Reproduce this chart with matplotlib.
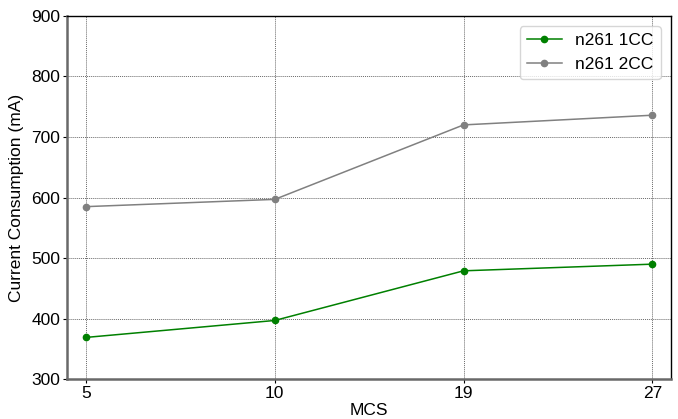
import numpy as np
import matplotlib
matplotlib.use('Agg')
import matplotlib.pyplot as plt

plt.rcParams['font.family'] = ['Liberation Sans', 'DejaVu Sans']

# Datos
mcs = ['5', '10', '19', '27']
cc1 = [369, 397, 479, 490]
cc2 = [585, 597, 720, 736]

fig, ax = plt.subplots(figsize=(6.78, 4.19), dpi=100)
x = np.arange(len(mcs))
ax.plot(x, cc1, color='green', marker='o', markersize=4.5, linewidth=1.1, label='n261 1CC')
ax.plot(x, cc2, color='gray', marker='o', markersize=4.5, linewidth=1.1, label='n261 2CC')

ax.set_xticks(x)
ax.set_xticklabels(mcs)
ax.set_xlim(-0.1, 3.1)
ax.set_ylim(300, 900)
ax.set_yticks(range(300, 901, 100))
ax.grid(True, linestyle=(0, (1, 1)), color='dimgray', linewidth=0.7)
ax.tick_params(labelsize=12.5, length=3, pad=2)
ax.set_xlabel('MCS', fontsize=12.5, labelpad=1)
ax.set_ylabel('Current Consumption (mA)', fontsize=12.5, labelpad=5)

for side in ['left', 'bottom']:
    ax.spines[side].set_color('dimgray')
    ax.spines[side].set_linewidth(1.8)
for side in ['top', 'right']:
    ax.spines[side].set_linewidth(1.0)

ax.legend(loc='upper right', fontsize=12.5, fancybox=True, borderaxespad=0.6)

plt.subplots_adjust(left=0.099, right=0.99, top=0.962, bottom=0.095)
plt.savefig('out.png')
